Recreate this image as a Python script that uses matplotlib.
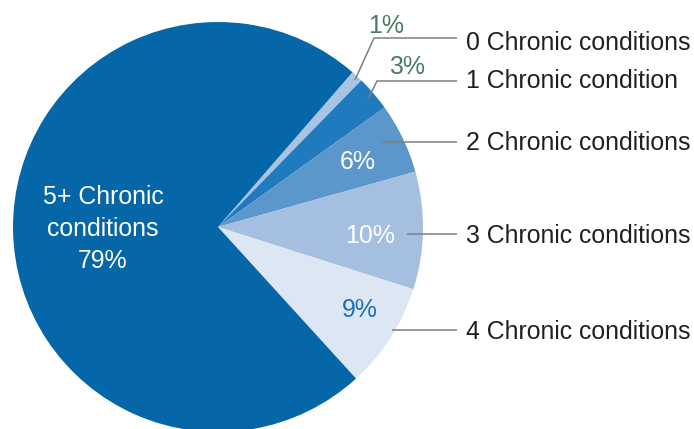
import matplotlib
matplotlib.use("Agg")
import matplotlib.pyplot as plt

plt.rcParams['font.family'] = ['Liberation Sans', 'DejaVu Sans']

categories = ["0 Chronic conditions", "1 Chronic condition", "2 Chronic conditions",
              "3 Chronic conditions", "4 Chronic conditions", "5+ Chronic\nconditions"]
values = [1, 3, 6, 10, 9, 79]
pct_labels = ["1%", "3%", "6%", "10%", "9%", "79%"]
colors = ["#a9c3e2", "#1f7bbd", "#5b97cb", "#a4bfdf", "#dde7f3", "#0567a8"]
pct_colors = ["#4a7a62", "#4a7a62", "white", "white", "#1b6fb3", "white"]

W, H = 694, 429
fig = plt.figure(figsize=(W / 100, H / 100), dpi=100)

# pie geometry in pixels (from top-left)
cx, cy, r = 218, 227, 205
ax = fig.add_axes([(cx - r) / W, (H - cy - r) / H, 2 * r / W, 2 * r / H])

ax.pie(values, colors=colors, startangle=49, counterclock=False, radius=1,
       center=(0, 0), wedgeprops=dict(linewidth=0), frame=True)
ax.set_xlim(-1, 1)
ax.set_ylim(-1, 1)
ax.set_aspect('equal')
ax.axis('off')


def px(x, y):
    """Pixel position (from top-left) to data coordinates of the pie axes."""
    return ((x - cx) / r, (cy - y) / r)


fs = 17.9
# percentage labels placed around the pie
pct_pos = [(386, 26), (407, 67), (358, 162), (370, 236), (360, 310)]
for lab, col, (x, y) in zip(pct_labels[:5], pct_colors[:5], pct_pos):
    ax.text(*px(x, y), lab, color=col, fontsize=fs, ha='center', va='center')

ax.text(*px(103, 229), categories[5] + "\n" + pct_labels[5], color='white',
        fontsize=fs, ha='center', va='center', linespacing=1.42)

# leader lines to the category names
leaders = [
    [(355, 80), (374, 38), (457, 38)],
    [(368, 99), (377, 81), (457, 81)],
    [(382, 142), (457, 142)],
    [(407, 234), (457, 234)],
    [(392, 330), (457, 330)],
]
for pts in leaders:
    xs, ys = zip(*[px(x, y) for x, y in pts])
    ax.plot(xs, ys, color="#7f7f7f", lw=1.1, clip_on=False, solid_capstyle='butt')

name_y = [43, 81, 143, 236, 332]
for lab, y in zip(categories[:5], name_y):
    ax.text(*px(466, y), lab, color="#231f20", fontsize=fs, ha='left', va='center')

fig.savefig("out.png", dpi=100)
